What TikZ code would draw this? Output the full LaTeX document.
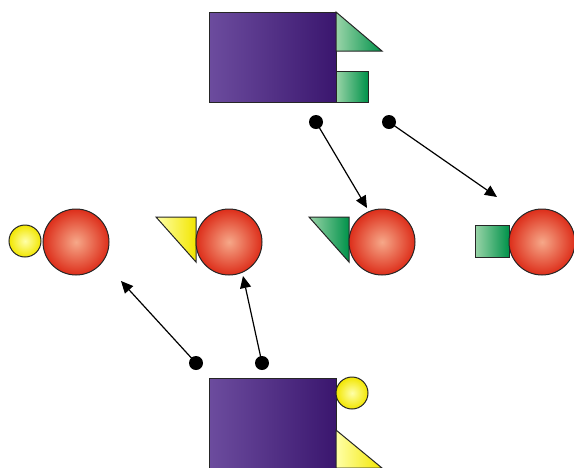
\documentclass[tikz,border=0pt]{standalone}
\usetikzlibrary{arrows.meta}
\definecolor{purpL}{HTML}{6C4C9E}
\definecolor{purpD}{HTML}{3A166E}
\definecolor{redC}{HTML}{F6A889}
\definecolor{redO}{HTML}{DD2E1A}
\definecolor{grnL}{HTML}{9AD4A8}
\definecolor{grnD}{HTML}{00924A}
\definecolor{yelL}{HTML}{FFFFA8}
\definecolor{yelD}{HTML}{F2E600}
\tikzset{
  outl/.style={draw=black!85, line width=1pt},
  purpbox/.style={outl, left color=purpL, right color=purpD},
  redball/.style={outl, inner color=redC, outer color=redO},
  yelball/.style={outl, inner color=yelL, outer color=yelD},
  grnshape/.style={outl, left color=grnL, right color=grnD},
  yelshape/.style={outl, left color=yelL, right color=yelD},
  dot/.style={circle, fill=black, inner sep=0pt, minimum size=14pt},
  conn/.style={line width=1.2pt, -{Triangle[length=12pt,width=11pt]}}
}
\begin{document}
\begin{tikzpicture}[x=1pt,y=-1pt]
\useasboundingbox (0,0) rectangle (574,467);
% top complex
\draw[purpbox] (209,12) rectangle (336,102);
\draw[grnshape] (336,12) -- (382,51) -- (336,51) -- cycle;
\draw[grnshape] (336,71) rectangle (368,102);
% bottom complex
\draw[purpbox] (209,378) rectangle (336,475);
\draw[yelball] (352,393) circle (16);
\draw[yelshape] (336,430) -- (382,468) -- (336,468) -- cycle;
% row of balls
\draw[yelball] (25,241) circle (16);
\draw[redball] (76,242) circle (33);
\draw[yelshape] (156,217) -- (196,217) -- (196,262) -- cycle;
\draw[redball] (229,242) circle (33);
\draw[grnshape] (309,217) -- (349,217) -- (349,262) -- cycle;
\draw[redball] (382,242) circle (33);
\draw[grnshape] (475,225) rectangle (509,257);
\draw[redball] (542,242) circle (33);
% dots and connectors
\node[dot] (d1) at (316,122) {};
\node[dot] (d2) at (389,122) {};
\node[dot] (d3) at (196,363) {};
\node[dot] (d4) at (262,363) {};
\coordinate (e1) at (367,208);
\coordinate (e2) at (497,197);
\coordinate (e3) at (121,281);
\coordinate (e4) at (243,276);
\draw[conn] (d1.center) -- (e1);
\draw[conn] (d2.center) -- (e2);
\draw[conn] (d3.center) -- (e3);
\draw[conn] (d4.center) -- (e4);
\end{tikzpicture}
\end{document}
